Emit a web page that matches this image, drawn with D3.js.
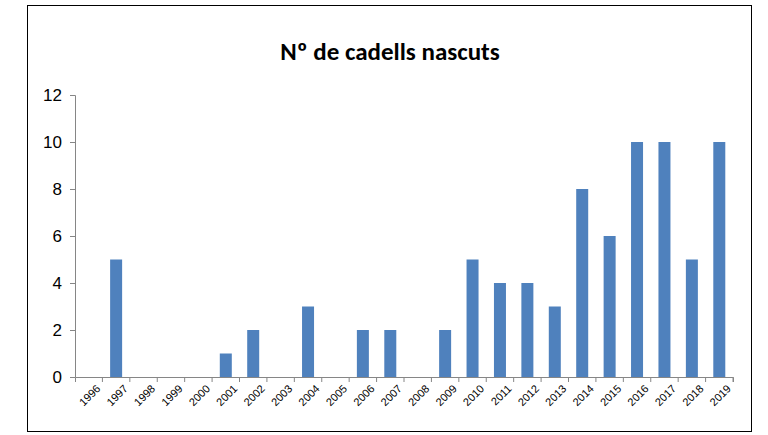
<!DOCTYPE html>
<html lang="en">
<head>
<meta charset="UTF-8">
<title>Nº de cadells nascuts</title>
<style>
  body { margin: 0; background: #fff; }
  svg { font-family: Carlito, Calibri, "Liberation Sans", Arial, sans-serif; }
</style>
</head>
<body>
<svg id="chart" width="768" height="435"></svg>
<script src="https://d3js.org/d3.v7.min.js"></script>
<script>
const years = ['1996','1997','1998','1999','2000','2001','2002','2003','2004','2005','2006','2007',
               '2008','2009','2010','2011','2012','2013','2014','2015','2016','2017','2018','2019'];
const births = [0,5,0,0,0,1,2,0,3,0,2,2,0,2,5,4,4,3,8,6,10,10,5,10];
const yTicks = [0,2,4,6,8,10,12];

const svg = d3.select('#chart');
const m = { left: 75, right: 733, top: 95, bottom: 377 };

// outer frame
svg.append('rect').attr('x', 27.5).attr('y', 5.5).attr('width', 724).attr('height', 426)
    .attr('fill', 'none').attr('stroke', '#000').attr('stroke-width', 1);

svg.append('text').attr('x', 390).attr('y', 60).attr('text-anchor', 'middle')
    .attr('font-size', 25).attr('font-weight', 'bold').text('Nº de cadells nascuts');

const x = d3.scaleBand().domain(years).range([m.left, m.right]);
const y = d3.scaleLinear().domain([0, 12]).range([m.bottom, m.top]);

const yAxis = svg.append('g').attr('transform', `translate(${m.left},0)`)
    .call(d3.axisLeft(y).tickValues(yTicks).tickSize(5).tickPadding(8));
yAxis.select('.domain').attr('stroke', '#868686');
yAxis.selectAll('.tick line').attr('stroke', '#868686');
yAxis.selectAll('text').attr('font-size', 17).attr('fill', '#000')
    .style('font-family', '"Liberation Sans", Arial, sans-serif');

const bw = 12;
svg.append('g').selectAll('rect').data(births).join('rect')
    .attr('x', (d, i) => x(years[i]) + x.bandwidth() / 2 - bw / 2)
    .attr('y', d => y(d))
    .attr('width', bw)
    .attr('height', d => y(0) - y(d))
    .attr('fill', '#4f81bd');

const xAxis = svg.append('g').attr('transform', `translate(0,${m.bottom})`)
    .call(d3.axisBottom(x).tickSizeOuter(0).tickSize(5));
xAxis.select('.domain').attr('stroke', '#868686');
xAxis.selectAll('.tick line').attr('stroke', '#868686')
    .attr('transform', `translate(${x.bandwidth() / 2},0)`);
xAxis.selectAll('text')
    .attr('font-size', 11).attr('fill', '#000')
    .style('font-family', '"Liberation Sans", Arial, sans-serif')
    .attr('text-anchor', 'end')
    .attr('transform', 'translate(4,4) rotate(-45)')
    .attr('dy', '0.35em');
</script>
</body>
</html>
